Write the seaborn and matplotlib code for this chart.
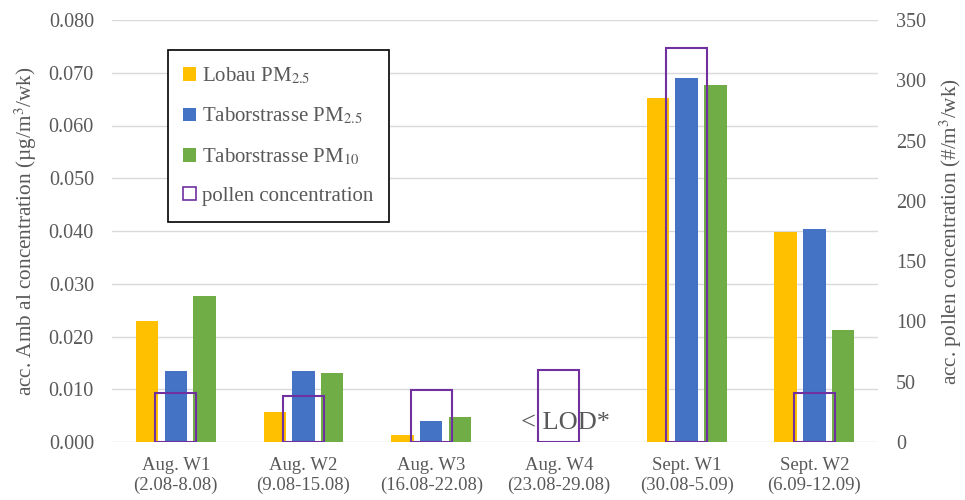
import matplotlib
matplotlib.use("Agg")
import matplotlib.pyplot as plt
import matplotlib.patches as mpatches
import pandas as pd
import seaborn as sns

# ── Data ─────────────────────────────────────────────────
weeks = ["Aug. W1\n(2.08-8.08)", "Aug. W2\n(9.08-15.08)", "Aug. W3\n(16.08-22.08)",
         "Aug. W4\n(23.08-29.08)", "Sept. W1\n(30.08-5.09)", "Sept. W2\n(6.09-12.09)"]
lobau_pm25 = [0.0229, 0.0057, 0.0013, 0.0, 0.0652, 0.0398]
tabor_pm25 = [0.0135, 0.0135, 0.0040, 0.0, 0.0690, 0.0404]
tabor_pm10 = [0.0277, 0.0131, 0.0047, 0.0, 0.0677, 0.0212]
pollen = [41, 38, 43, 60, 327, 41]

series_names = ["Lobau PM$_{2.5}$", "Taborstrasse PM$_{2.5}$", "Taborstrasse PM$_{10}$"]
COLORS = ["#FFC000", "#4472C4", "#70AD47"]
PURPLE = "#7030A0"
GRAY = "#595959"

df = pd.DataFrame({
    "week": weeks * 3,
    "series": [s for s in series_names for _ in weeks],
    "value": lobau_pm25 + tabor_pm25 + tabor_pm10,
})

# ── Style ────────────────────────────────────────────────
sns.set_style("white")
plt.rcParams["font.family"] = ["Liberation Serif", "DejaVu Serif"]
plt.rcParams["mathtext.fontset"] = "stix"

fig = plt.figure(figsize=(9.65, 5), dpi=100)
ax = fig.add_axes([0.116, 0.116, 0.794, 0.844])

sns.barplot(data=df, x="week", y="value", hue="series", order=weeks,
            hue_order=series_names, palette=COLORS, width=0.675, gap=0.22,
            ax=ax, errorbar=None, linewidth=0, saturation=1)

ax.set_ylim(0, 0.08)
ax.set_yticks([i * 0.01 for i in range(9)])
ax.set_yticklabels([f"{i * 0.01:.3f}" for i in range(9)])
ax.yaxis.grid(True, color="#d9d9d9", linewidth=1)
ax.set_axisbelow(True)
ax.set_xlim(-0.5, 5.5)
for s in ax.spines.values():
    s.set_visible(False)
ax.tick_params(axis="y", length=0, pad=13, labelsize=14.5, labelcolor=GRAY)
ax.tick_params(axis="x", length=0, pad=11, labelsize=13.5, labelcolor=GRAY)
ax.set_xlabel("")
ax.set_ylabel("acc. Amb al concentration (µg/m$^3$/wk)", fontsize=15.3, color=GRAY, labelpad=7)
ax.get_legend().remove()

ax.text(3.05, 0.0036, "< LOD*", ha="center", va="center", fontsize=19, color=GRAY)

# ── Pollen on secondary axis ─────────────────────────────
ax2 = ax.twinx()
sns.barplot(x=weeks, y=pollen, order=weeks, ax=ax2, fill=False, color=PURPLE,
            width=0.32, linewidth=1.5, errorbar=None, saturation=1)
ax2.set_ylim(0, 350)
ax2.set_yticks(range(0, 351, 50))
ax2.set_xlim(-0.5, 5.5)
for s in ax2.spines.values():
    s.set_visible(False)
ax2.tick_params(axis="y", length=0, pad=13, labelsize=14.5, labelcolor=GRAY)
ax2.set_ylabel("acc. pollen concentration (#/m$^3$/wk)", fontsize=15.3, color=GRAY, labelpad=8)

# ── Legend ───────────────────────────────────────────────
handles = [mpatches.Patch(facecolor=c, edgecolor="none") for c in COLORS]
handles.append(mpatches.Patch(facecolor="none", edgecolor=PURPLE, linewidth=1.2))
leg = ax2.legend(handles, series_names + ["pollen concentration"],
                 loc="upper left", bbox_to_anchor=(0.073, 0.929), borderaxespad=0,
                 fontsize=15, frameon=True, fancybox=False, framealpha=1,
                 edgecolor="black", handlelength=0.6, handleheight=0.6,
                 handletextpad=0.3, labelspacing=0.95, borderpad=0.75)
leg.get_frame().set_linewidth(1.2)
for t in leg.get_texts():
    t.set_color(GRAY)

fig.savefig("out.png", dpi=100)
